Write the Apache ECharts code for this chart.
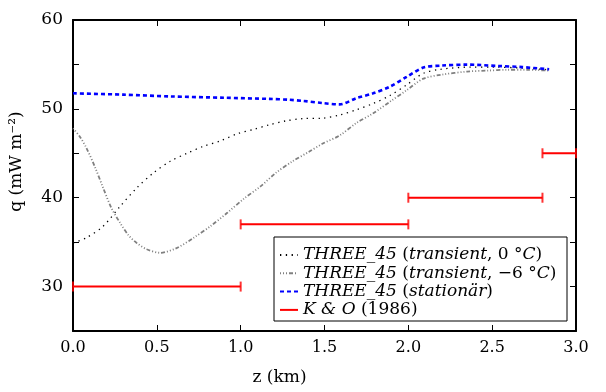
<!DOCTYPE html>
<html>
<head>
<meta charset="utf-8">
<script src="https://cdn.jsdelivr.net/npm/echarts@6/dist/echarts.min.js"></script>
<style>html,body{margin:0;padding:0;background:#fff}#c{width:606px;height:392px}</style>
</head>
<body>
<div id="c"></div>
<script>
// ---- data ----
var seriesNames = ['THREE_45 (transient, 0 °C)', 'THREE_45 (transient, −6 °C)', 'THREE_45 (stationär)', 'K & O (1986)'];

var zT0 = [0, 0.08, 0.18, 0.28, 0.38, 0.48, 0.58, 0.68, 0.78, 0.88, 0.98, 1.08, 1.17, 1.27, 1.37, 1.49, 1.59, 1.69, 1.79, 1.89, 1.99, 2.09, 2.19, 2.37, 2.51, 2.67, 2.84];
var qT0 = [34.9, 35.5, 36.8, 39.0, 41.1, 42.8, 44.1, 45.0, 45.8, 46.4, 47.2, 47.7, 48.2, 48.65, 48.9, 48.95, 49.3, 49.9, 50.6, 51.5, 52.7, 54.0, 54.45, 54.7, 54.7, 54.6, 54.4];

var zT6 = [0, 0.04, 0.08, 0.13, 0.18, 0.23, 0.28, 0.33, 0.38, 0.44, 0.52, 0.62, 0.72, 0.82, 0.92, 1.02, 1.12, 1.21, 1.31, 1.41, 1.49, 1.59, 1.69, 1.79, 1.89, 1.99, 2.09, 2.2, 2.35, 2.47, 2.59, 2.71, 2.84];
var qT6 = [47.8, 46.9, 45.6, 43.5, 41.1, 38.8, 37.2, 35.8, 34.9, 34.2, 33.8, 34.35, 35.5, 36.8, 38.3, 39.9, 41.3, 42.8, 44.1, 45.2, 46.1, 47.0, 48.4, 49.5, 50.8, 52.1, 53.4, 53.85, 54.2, 54.3, 54.4, 54.4, 54.3];

var zSt = [0, 0.3, 0.58, 0.9, 1.17, 1.29, 1.37, 1.49, 1.59, 1.69, 1.79, 1.89, 1.99, 2.09, 2.2, 2.35, 2.53, 2.68, 2.84];
var qSt = [51.75, 51.6, 51.4, 51.25, 51.12, 51.02, 50.9, 50.65, 50.5, 51.2, 51.75, 52.5, 53.6, 54.65, 54.87, 54.98, 54.83, 54.7, 54.45];

var koStart = [0, 1, 2, 2.8];
var koEnd = [1, 2, 2.8, 3.0];
var koQ = [30, 37, 40, 45];

var yLabelled = [30, 40, 50, 60];

// ---- build ----
function pairs(z, q) { return z.map(function (v, i) { return [v, q[i]]; }); }
var koLine = [], koCaps = [];
for (var i = 0; i < koQ.length; i++) {
  koLine.push([koStart[i], koQ[i]], [koEnd[i], koQ[i]], [koEnd[i], '-']);
  koCaps.push([koStart[i], koQ[i]], [koEnd[i], koQ[i]]);
}

var FONT = 'DejaVu Serif';
var rich = {
  i: { fontFamily: FONT, fontStyle: 'italic', fontSize: 17, lineHeight: 18, color: '#000' },
  r: { fontFamily: FONT, fontSize: 17, lineHeight: 18, color: '#000' }
};
var legendRich = {};
legendRich[seriesNames[0]] = '{i|THREE_45} {r|(}{i|transient}{r|, 0 °}{i|C}{r|)}';
legendRich[seriesNames[1]] = '{i|THREE_45} {r|(}{i|transient}{r|, −6 °}{i|C}{r|)}';
legendRich[seriesNames[2]] = '{i|THREE_45} {r|(}{i|stationär}{r|)}';
legendRich[seriesNames[3]] = '{i|K & O} {r|(1986)}';

var frame = { show: true, onZero: false, lineStyle: { color: '#000', width: 2 } };
var tick = { show: true, inside: true, length: 6, lineStyle: { color: '#000', width: 1 } };

var chart = echarts.init(document.getElementById('c'), null, { renderer: 'canvas' });
chart.setOption({
  animation: false,
  backgroundColor: '#fff',
  grid: { left: 73, right: 30, top: 20, bottom: 61 },
  xAxis: [{
    type: 'value', min: 0, max: 3, interval: 0.5, position: 'bottom',
    axisLine: frame, axisTick: tick, splitLine: { show: false },
    axisLabel: { fontFamily: FONT, fontSize: 16, color: '#000', margin: 9,
      formatter: function (v) { return v.toFixed(1); } },
    name: 'z (km)', nameLocation: 'middle', nameGap: 38,
    nameTextStyle: { fontFamily: FONT, fontSize: 17, color: '#000', padding: [0, 90, 0, 0] }
  }, {
    type: 'value', min: 0, max: 3, interval: 0.5, position: 'top',
    axisLine: frame, axisTick: tick, axisLabel: { show: false }, splitLine: { show: false }
  }],
  yAxis: [{
    type: 'value', min: 25, max: 60, interval: 5, position: 'left',
    axisLine: frame, axisTick: tick, splitLine: { show: false },
    axisLabel: { fontFamily: FONT, fontSize: 17, color: '#000', margin: 10,
      formatter: function (v) { return yLabelled.indexOf(v) >= 0 ? String(v) : ''; } },
    name: 'q (mW m⁻²)', nameLocation: 'middle', nameGap: 48,
    nameTextStyle: { fontFamily: FONT, fontSize: 17, color: '#000', padding: [0, 0, 0, 28] }
  }, {
    type: 'value', min: 25, max: 60, interval: 5, position: 'right',
    axisLine: frame, axisTick: tick, axisLabel: { show: false }, splitLine: { show: false }
  }],
  graphic: [{
    type: 'rect', z: 3, zlevel: 0, silent: true,
    shape: { x: 274, y: 237, width: 293, height: 84 },
    style: { fill: '#fff', stroke: '#000', lineWidth: 1 }
  }],
  legend: {
    z: 10,
    orient: 'vertical', left: 279, top: 246, padding: 0,
    itemWidth: 18, itemHeight: 14, itemGap: 0.3,
    data: seriesNames,
    itemStyle: { opacity: 0 },
    formatter: function (n) { return legendRich[n]; },
    textStyle: { rich: rich, fontFamily: FONT, fontSize: 17, lineHeight: 18, color: '#000' }
  },
  series: [{
    name: seriesNames[0], type: 'line', data: pairs(zT0, qT0), smooth: 0.3,
    symbol: 'none', lineStyle: { color: '#000', width: 1.3, type: [1.3, 4.5] }, itemStyle: { color: '#000' }
  }, {
    name: seriesNames[1], type: 'line', data: pairs(zT6, qT6), smooth: 0.3,
    symbol: 'none', lineStyle: { color: '#808080', width: 1.8, type: [1, 2, 1, 2, 1, 2, 4, 2] }, itemStyle: { color: '#808080' }
  }, {
    name: seriesNames[2], type: 'line', data: pairs(zSt, qSt), smooth: 0.3,
    symbol: 'none', lineStyle: { color: '#0000ff', width: 2.6, type: [4, 3] }, itemStyle: { color: '#0000ff' }
  }, {
    name: seriesNames[3], type: 'line', data: koLine, connectNulls: false,
    symbol: 'none', lineStyle: { color: '#ff0000', width: 2 }, itemStyle: { color: '#ff0000' }
  }, {
    name: 'caps', type: 'scatter', data: koCaps,
    symbol: 'rect', symbolSize: [2, 10], itemStyle: { color: '#ff0000' }, silent: true
  }]
});
</script>
</body>
</html>
